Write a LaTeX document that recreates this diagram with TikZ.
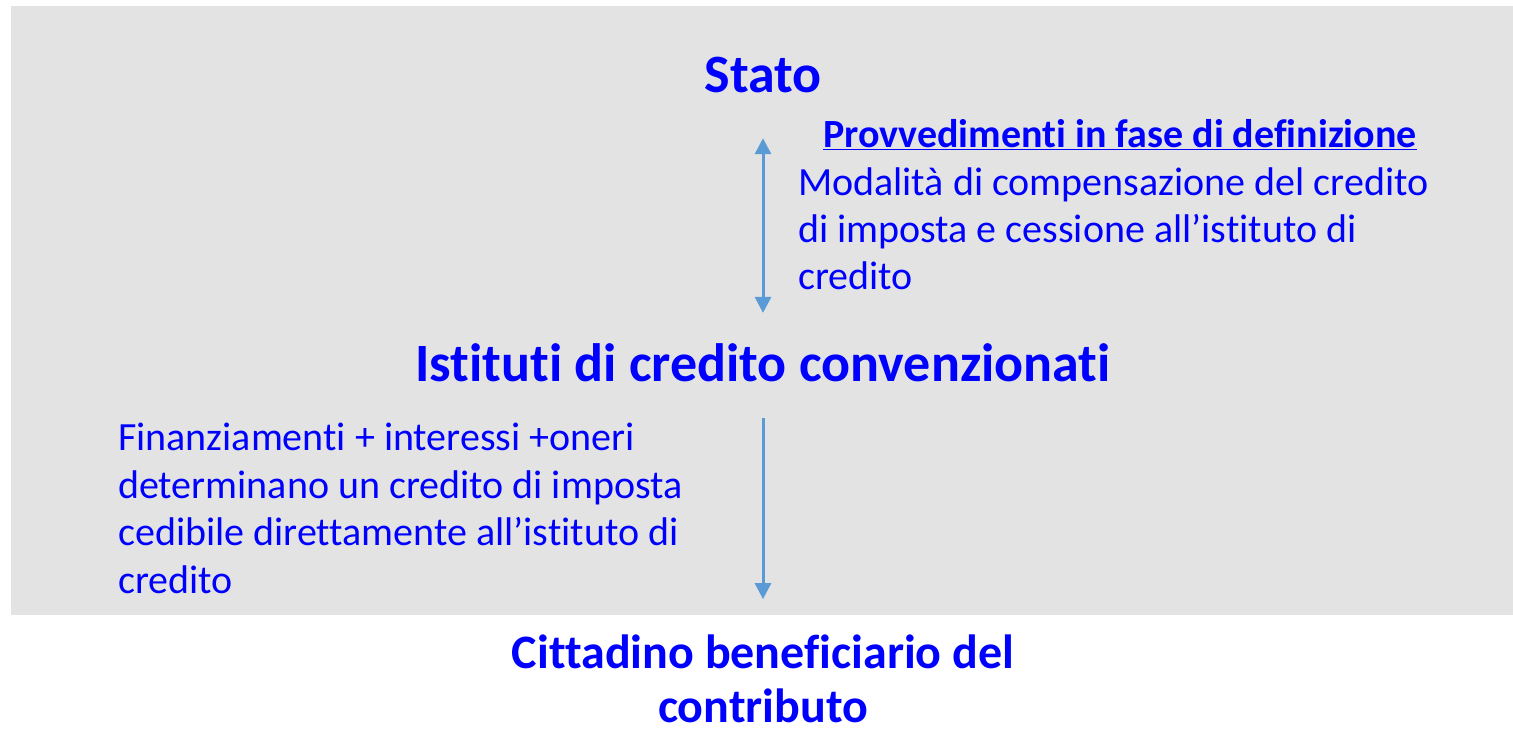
\documentclass[tikz,border=0pt]{standalone}
\usepackage{fontspec}
\setmainfont{Carlito}[Ligatures = NoCommon]
\usepackage{xcolor}
\usetikzlibrary{arrows,arrows.meta,positioning,calc}
\definecolor{txtblue}{RGB}{0,0,255}
\definecolor{arrowblue}{RGB}{91,155,213}
\definecolor{panelgray}{RGB}{227,227,227}

\begin{document}
\begin{tikzpicture}[x = 1pt, y = -1pt,
    title/.style = {font = \fontsize{54}{54}\selectfont\bfseries, text = txtblue, align = center, inner sep = 0pt, text depth = 0pt},
    body/.style = {font = \fontsize{40}{47.5}\selectfont, text = txtblue, align = left, inner sep = 0pt},
    link/.style = {draw = arrowblue, line width = 3pt, -{Triangle[width = 16pt, length = 16pt]}}]
    \useasboundingbox (0,0) rectangle (1513,730);
    \fill[panelgray] (11,6) rectangle (1513,615);
    \node[title, anchor = base] (stato) at (763,93) {Stato};
    \node[title, anchor = base] (ist) at (763,381) {Istituti di credito convenzionati};
    \node[title, anchor = base, font = \fontsize{48}{54}\selectfont\bfseries] (citt) at (763,722) {Cittadino beneficiario del\\contributo};
    \draw[link, {Triangle[width = 16pt, length = 16pt]}-{Triangle[width = 16pt, length = 16pt]}, shorten <= 45pt, shorten >= 30pt] (stato.south) -- (ist.north);
    \draw[link, shorten <= 37pt, shorten >= 35pt] (ist.south) -- (citt.north);
        % Labels
    \node[body, anchor = base, font = \fontsize{40}{47.5}\selectfont\bfseries] (prov) at (1120,148) {\underline{Provvedimenti in fase di definizione}};
    \node[body, anchor = base west] (comp) at (798,290) {Modalità di compensazione del credito\\di imposta e cessione all’istituto di\\credito};
    \node[body, anchor = base west] (fin) at (118,593) {Finanziamenti + interessi +oneri\\determinano un credito di imposta\\cedibile direttamente all’istituto di\\credito};
  \end{tikzpicture}
\end{document}
